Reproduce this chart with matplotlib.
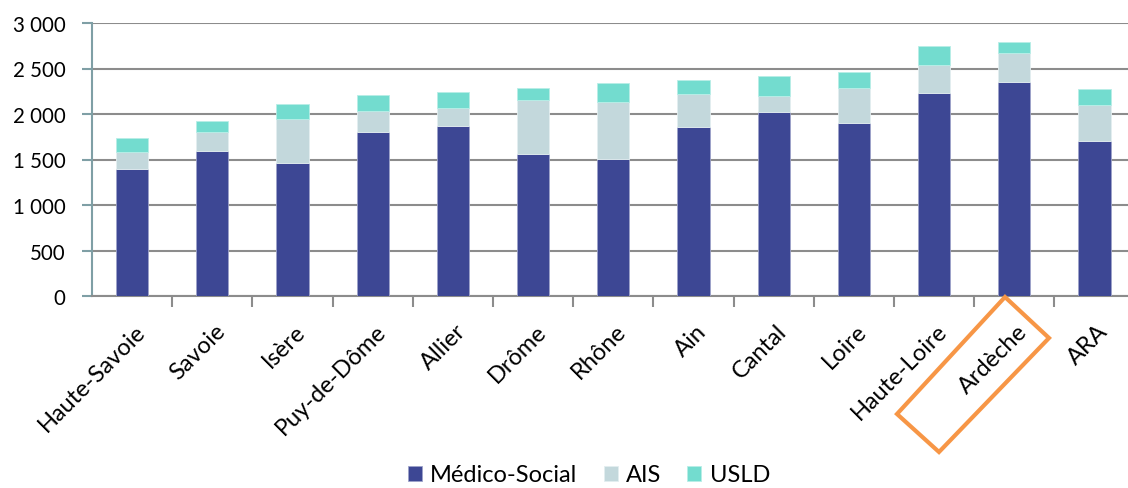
import matplotlib.pyplot as plt
import numpy as np
from matplotlib.patches import Polygon
from matplotlib.ticker import FuncFormatter

plt.rcParams['font.family'] = ['Lato', 'DejaVu Sans']

# departments
departements = ['Haute-Savoie', 'Savoie', 'Isère', 'Puy-de-Dôme', 'Allier', 'Drôme',
                'Rhône', 'Ain', 'Cantal', 'Loire', 'Haute-Loire', 'Ardèche', 'ARA']

# values per series
medico_social = [1396, 1593, 1465, 1799, 1872, 1557, 1502, 1853, 2022, 1901, 2227, 2355, 1700]
ais = [190, 209, 476, 234, 194, 597, 630, 367, 172, 388, 311, 319, 399]
usld = [154, 121, 169, 172, 172, 132, 205, 150, 227, 176, 209, 117, 172]

c_med = '#3D4794'
c_ais = '#C3D8DC'
c_usld = '#73DCCF'

fig = plt.figure(figsize=(11.28, 4.89), dpi=100)
ax = fig.add_axes([92 / 1128, (489 - 297) / 489, (1128 - 92) / 1128, 273 / 489])

x = np.arange(len(departements))
med = np.array(medico_social)
a = np.array(ais)
u = np.array(usld)
w = 0.4
ax.bar(x, med, w, color=c_med, edgecolor='#9EA3C9', linewidth=0.6, label='Médico-Social', zorder=3)
ax.bar(x, a, w, bottom=med, color=c_ais, edgecolor='#E3EEF0', linewidth=0.6, label='AIS', zorder=3)
ax.bar(x, u, w, bottom=med + a, color=c_usld, edgecolor='#B8EEE7', linewidth=0.6, label='USLD', zorder=3)

ax.set_ylim(0, 3000)
ax.set_xlim(-0.5, -0.5 + (1128 - 92) / 80.2)
ax.set_yticks(range(0, 3001, 500))
ax.yaxis.set_major_formatter(FuncFormatter(lambda v, p: f'{int(v):,}'.replace(',', ' ')))
ax.grid(axis='y', color='#8C8C8C', linewidth=1.5, zorder=0)
ax.set_axisbelow(True)

for s in ['top', 'right']:
    ax.spines[s].set_visible(False)
ax.spines['left'].set_color('#7F9FA5')
ax.spines['left'].set_linewidth(1.5)
ax.spines['bottom'].set_color('#8C8C8C')
ax.spines['bottom'].set_linewidth(1.5)

# category separators as ticks
ax.set_xticks(x[1:] - 0.5)
ax.set_xticklabels([])
ax.tick_params(axis='x', length=8, width=1.5, color='#8C8C8C')
ax.tick_params(axis='y', length=7, width=1.5, color='#7F9FA5', labelsize=14.8, pad=12)
for xi, name in zip(x, departements):
    ax.text(xi + 0.12, -0.115, name, rotation=45, ha='right', va='center',
            rotation_mode='anchor', fontsize=17, transform=ax.get_xaxis_transform())

fig.legend(loc='center', bbox_to_anchor=(589 / 1128, 1 - 476 / 489),
           ncol=3, frameon=False, fontsize=17, handlelength=0.6, handleheight=0.6,
           columnspacing=1.1, handletextpad=0.35)

# orange highlight around Ardèche
pts = [(1005, 298), (1049, 339), (939, 453), (897, 415)]
box = Polygon([(px / 1128, 1 - py / 489) for px, py in pts], closed=True, fill=False,
              edgecolor='#F79646', linewidth=3, transform=fig.transFigure, clip_on=False)
fig.patches.append(box)

fig.savefig('out.png', dpi=100)
